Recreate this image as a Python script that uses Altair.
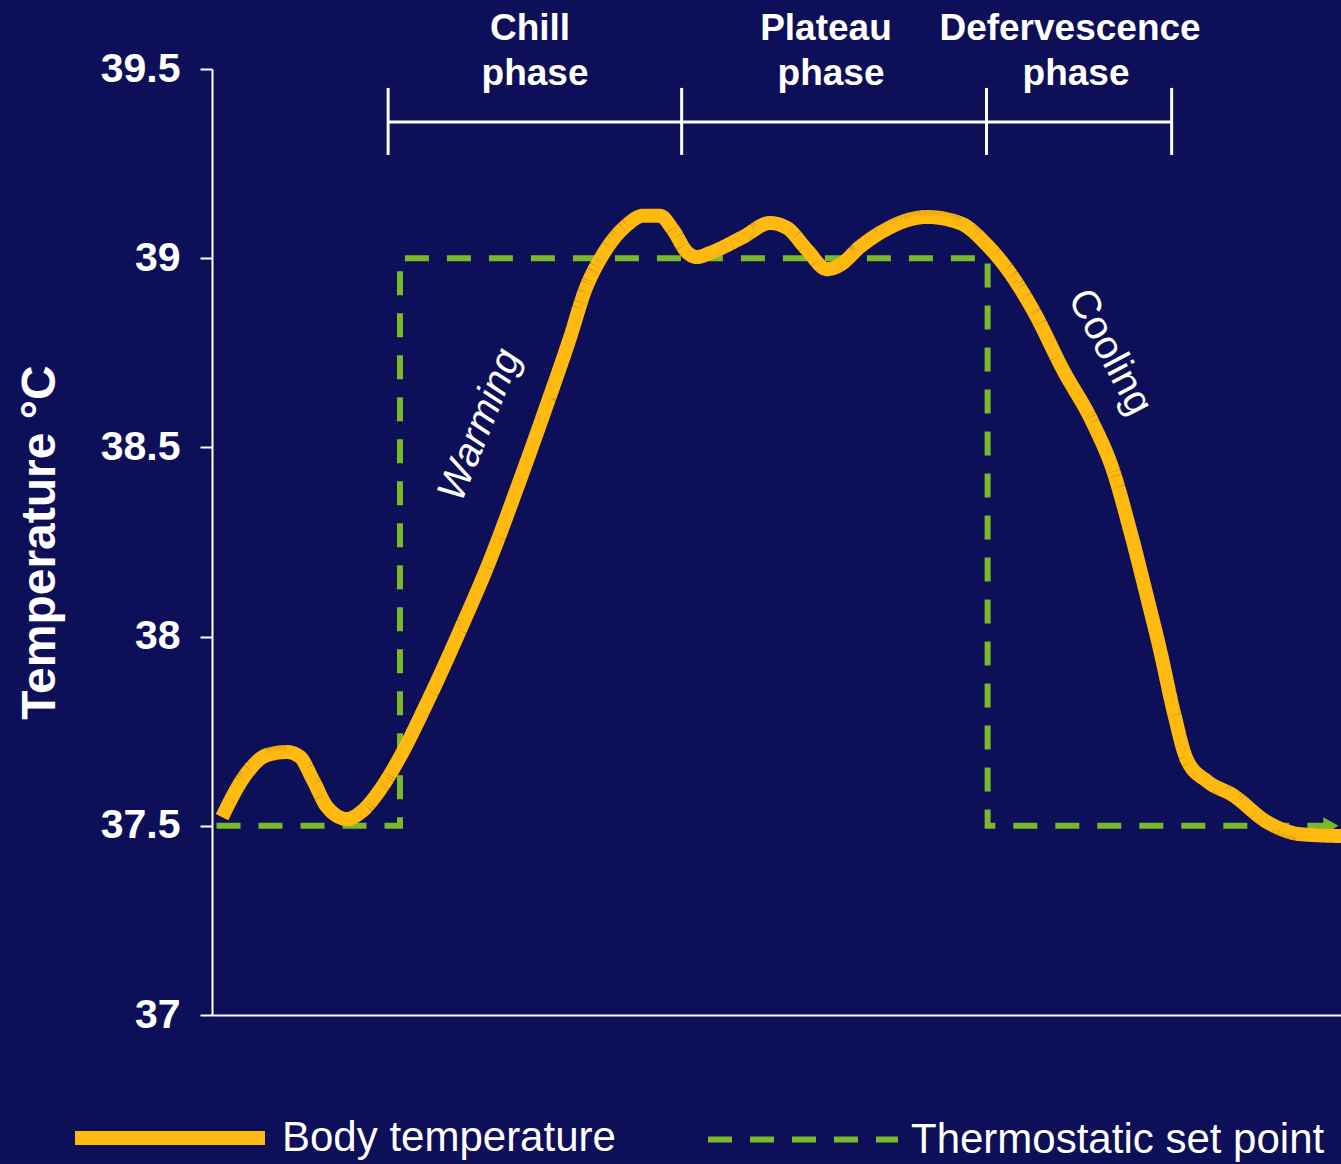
import altair as alt
import pandas as pd

# ---- data (x in arbitrary time units 0..100, temperature in °C) ----
body_x = [0.89, 3.10, 4.87, 6.64, 7.79, 8.95, 10.19, 11.96, 13.11, 14.88, 16.65, 19.04,
          21.97, 24.62, 27.28, 29.50, 31.71, 33.04, 34.63, 36.76, 38.17, 39.68, 40.83,
          42.07, 42.96, 44.11, 47.03, 49.42, 50.93, 52.70, 54.47, 55.62, 57.40, 59.17,
          63.33, 66.25, 68.64, 70.68, 72.72, 75.38, 78.03, 79.80, 81.31, 82.82, 83.97,
          85.21, 86.36, 88.13, 90.43, 93.45, 96.37, 100.0]
body_t = [37.523, 37.640, 37.687, 37.695, 37.682, 37.621, 37.550, 37.518, 37.534, 37.595,
          37.682, 37.825, 38.017, 38.202, 38.414, 38.599, 38.790, 38.915, 39.010, 39.088,
          39.112, 39.112, 39.075, 39.016, 39.003, 39.014, 39.056, 39.093, 39.080, 39.022,
          38.971, 38.982, 39.030, 39.067, 39.109, 39.093, 39.035, 38.961, 38.863, 38.705,
          38.564, 38.440, 38.282, 38.105, 37.965, 37.798, 37.674, 37.618, 37.581, 37.510,
          37.478, 37.473]

set_x = [0.4, 16.65, 16.65, 68.7, 68.7, 100.0]
set_t = [37.5, 37.5, 39.0, 39.0, 37.5, 37.5]

series_names = ["Body temperature", "Thermostatic set point"]

phase_bounds = [15.6, 41.6, 68.6, 85.0]
phase_label_x = [28.17, 28.61, 54.38, 54.83, 76.0, 76.53]
phase_label_t = [39.577, 39.458, 39.577, 39.458, 39.577, 39.458]
phase_label_text = ["Chill", "phase", "Plateau", "phase", "Defervescence", "phase"]

anno_text = ["Warming", "Cooling"]
anno_x = [23.74, 79.54]
anno_t = [38.559, 38.752]

y_ticks = [37, 37.5, 38, 38.5, 39, 39.5]

BG = "#0d0f58"
GOLD = "#ffb90f"
GREEN = "#7ab929"
FONT = "Liberation Sans"

body_df = pd.DataFrame({"x": body_x, "t": body_t, "series": series_names[0]})
set_df = pd.DataFrame({"x": set_x, "t": set_t, "series": series_names[1],
                       "i": list(range(len(set_x)))})
bound_df = pd.DataFrame({"x": phase_bounds})
bar_df = pd.DataFrame({"x": [phase_bounds[0]], "x2": [phase_bounds[-1]]})
plabel_df = pd.DataFrame({"x": phase_label_x, "t": phase_label_t, "text": phase_label_text})
anno_df = pd.DataFrame({"x": anno_x, "t": anno_t, "text": anno_text})
arrow_df = pd.DataFrame({"x": [99.1], "t": [37.5]})

xs = alt.Scale(domain=[0, 100], nice=False, zero=False)
ys = alt.Scale(domain=[37, 39.5], nice=False, zero=False)

x_enc = alt.X("x:Q", scale=xs,
              axis=alt.Axis(title=None, labels=False, ticks=False, grid=False,
                            domainColor="white", domainWidth=2))
y_enc = alt.Y("t:Q", scale=ys,
              axis=alt.Axis(title="Temperature °C", values=y_ticks, format=".1~f",
                            grid=False, domainColor="white", domainWidth=2,
                            tickColor="white", tickWidth=2, tickSize=12,
                            labelColor="white", labelFont=FONT, labelFontSize=41,
                            labelFontWeight="bold", labelPadding=20,
                            titleColor="white", titleFont=FONT, titleFontSize=48,
                            titleFontWeight="bold", titleAngle=270, titleX=-158,
                            titleY=473, titleAlign="center", titleBaseline="alphabetic"))

color_enc = alt.Color("series:N", scale=alt.Scale(domain=series_names, range=[GOLD, GREEN]),
                      legend=alt.Legend(orient="none", legendX=-144, legendY=967,
                                        direction="horizontal", title=None,
                                        symbolType="stroke", symbolSize=36100,
                                        labelFontSize=42, labelColor="white",
                                        labelFont=FONT, labelOffset=10,
                                        columnPadding=80, labelLimit=1000))
dash_enc = alt.StrokeDash("series:N", scale=alt.Scale(domain=series_names,
                                                       range=[[1, 0], [24, 18]]))
width_enc = alt.StrokeWidth("series:N", scale=alt.Scale(domain=series_names, range=[14, 6]))

setpoint = alt.Chart(set_df).mark_line(interpolate="linear", strokeCap="butt").encode(
    x=x_enc, y=y_enc, color=color_enc, strokeDash=dash_enc, strokeWidth=width_enc,
    order=alt.Order("i:Q"))

arrow = alt.Chart(arrow_df).mark_point(shape="triangle-right", filled=True, size=300,
                                       color=GREEN, opacity=1).encode(
    x=alt.X("x:Q", scale=xs), y=alt.Y("t:Q", scale=ys))

body = alt.Chart(body_df).mark_line(interpolate="monotone", strokeCap="butt").encode(
    x=alt.X("x:Q", scale=xs), y=alt.Y("t:Q", scale=ys),
    color=color_enc, strokeDash=dash_enc, strokeWidth=width_enc)

bar = alt.Chart(bar_df).mark_rule(color="white", strokeWidth=3).encode(
    x=alt.X("x:Q", scale=xs), x2="x2:Q", y=alt.datum(39.36, scale=ys))

ticks = alt.Chart(bound_df).mark_rule(color="white", strokeWidth=3).encode(
    x=alt.X("x:Q", scale=xs), y=alt.datum(39.273, scale=ys), y2=alt.datum(39.45))

plabels = alt.Chart(plabel_df).mark_text(color="white", font=FONT, fontSize=37,
                                         fontWeight="bold", align="center",
                                         baseline="alphabetic").encode(
    x=alt.X("x:Q", scale=xs), y=alt.Y("t:Q", scale=ys), text="text:N")

warm = alt.Chart(anno_df.iloc[[0]]).mark_text(color="white", font=FONT, fontSize=40,
                                              fontStyle="italic", angle=292,
                                              align="center", baseline="middle").encode(
    x=alt.X("x:Q", scale=xs), y=alt.Y("t:Q", scale=ys), text="text:N")

cool = alt.Chart(anno_df.iloc[[1]]).mark_text(color="white", font=FONT, fontSize=40,
                                              angle=62, align="center",
                                              baseline="middle").encode(
    x=alt.X("x:Q", scale=xs), y=alt.Y("t:Q", scale=ys), text="text:N")

chart = alt.layer(setpoint, arrow, body, bar, ticks, plabels, warm, cool).properties(
    width=1129, height=946,
    autosize=alt.AutoSizeParams(type="none"),
    padding={"left": 212, "top": 69, "right": 0, "bottom": 149},
    background=BG,
).configure_view(stroke=None).configure_axis(grid=False)

chart.save("out.html", embed_options={"renderer": "svg", "actions": False})
